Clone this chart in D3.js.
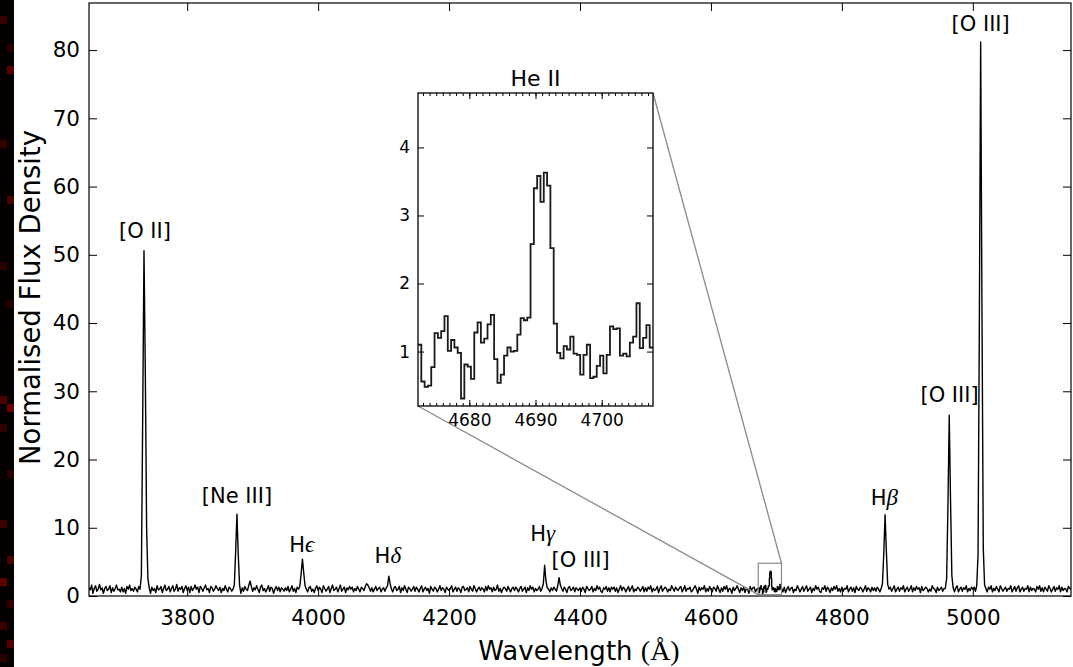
<!DOCTYPE html>
<html><head><meta charset="utf-8">
<script src="https://cdn.jsdelivr.net/npm/d3@7"></script>
<style>body{margin:0;background:#fff;overflow:hidden}svg text{font-family:"DejaVu Sans",sans-serif;fill:#000}</style>
</head><body><svg id="c" width="1073" height="667"></svg>
<script>
// ---- data ----
const rowStartWave = 3650, rowSpan = 50, waveStep = 2;   // each row: 25 samples, 2 Å apart
const fluxRows = [
 [1.2,0.9,1.6,0.4,1.1,1.5,0.7,1.0,1.7,0.9,1.2,0.4,1.1,1.4,0.8,1.0,1.5,0.5,1.2,0.7,1.1,1.6,0.9,1.0,0.6],
 [1.3,0.6,1.1,0.4,1.4,1.0,1.6,0.8,1.1,0.7,1.3,1.0,0.6,1.4,1.0,3.0,26,50.6,33,10,2.5,1.2,0.4,1.3,0.8],
 [1.1,0.5,1.5,0.9,1.0,1.4,0.5,1.1,1.6,0.8,1.0,1.4,0.6,1.1,1.5,0.7,1.0,1.7,0.7,1.2,1.0,1.4,0.5,1.1,1.5],
 [0.8,1.3,0.5,1.4,0.8,1.1,1.6,1.0,1.3,0.5,1.4,1.1,0.7,1.2,1.6,0.9,1.1,0.5,1.4,1.2,0.7,1.0,1.5,1.1,0.8],
 [1.3,0.5,1.1,0.8,1.5,1.0,0.6,1.3,1.1,0.7,1.0,1.6,6.5,12.0,6.0,1.6,0.4,1.2,0.7,1.4,1.0,0.8,1.5,2.2,1.4],
 [0.7,1.2,0.9,1.5,1.0,0.5,1.3,1.6,0.8,1.1,0.6,1.0,1.5,0.7,1.3,1.1,0.4,1.0,1.4,0.8,1.3,0.6,1.2,1.0,0.7],
 [1.2,0.8,1.4,0.6,1.0,1.5,0.7,1.1,0.5,1.3,1.0,1.4,3.2,5.4,3.4,1.5,1.0,0.6,1.2,1.4,0.7,1.0,0.5,1.1,1.5],
 [0.8,1.3,1.0,0.5,1.5,1.1,0.7,1.0,1.4,0.5,1.1,1.6,0.8,1.0,1.3,0.6,1.1,1.6,0.7,1.0,1.3,0.5,1.2,0.9,1.4],
 [1.0,1.3,0.6,1.1,0.8,1.4,1.0,0.6,1.3,1.1,0.8,1.4,1.8,1.6,1.2,0.7,1.2,0.6,1.0,1.4,0.8,1.1,1.3,0.6,1.0],
 [1.2,0.7,1.2,1.5,2.9,1.8,1.0,0.6,1.2,1.4,0.8,1.0,1.4,0.5,1.2,0.8,1.5,1.0,0.5,1.3,1.1,0.7,1.0,1.4,0.7],
 [1.3,1.0,0.6,1.1,1.5,0.6,1.0,1.3,0.8,1.1,0.4,1.4,1.0,0.7,1.3,1.1,0.6,1.0,1.5,0.8,1.2,1.0,0.5,1.3,1.0],
 [0.8,1.1,1.5,0.6,1.0,1.3,0.7,1.2,1.0,0.5,1.3,1.4,0.8,1.0,1.2,0.6,1.4,1.0,0.7,1.5,1.1,0.6,1.0,1.3,0.8],
 [1.2,1.0,0.6,1.4,0.8,1.5,1.0,1.2,0.6,1.3,0.8,1.0,1.6,0.7,1.1,0.5,1.0,1.3,1.1,0.7,1.4,1.0,0.6,1.1,1.3],
 [0.8,1.3,1.0,0.6,1.1,1.4,0.7,1.0,1.3,0.5,1.2,0.8,1.5,1.0,1.3,0.6,1.1,0.8,1.0,1.4,0.7,1.1,1.8,4.5,2.2],
 [1.2,1.0,0.6,1.2,0.8,1.3,1.0,0.7,1.5,2.7,1.6,1.1,0.7,1.3,1.0,0.5,1.2,1.4,0.8,1.0,1.3,0.6,1.2,1.0,0.8],
 [1.2,0.7,1.3,1.0,0.5,1.4,1.1,0.8,1.0,1.4,0.6,1.1,0.8,1.5,1.0,1.3,0.7,0.5,1.2,1.0,1.4,0.7,1.2,0.6,1.3],
 [1.0,1.3,0.7,1.2,0.5,1.0,1.5,0.8,1.3,1.1,0.6,1.0,1.4,0.7,1.1,1.5,0.6,1.0,0.8,1.3,1.1,0.7,1.0,1.4,0.6],
 [1.2,0.7,1.3,1.0,1.5,0.6,1.1,0.8,1.0,1.4,0.5,1.1,1.5,0.7,1.0,1.3,1.1,0.6,1.0,0.8,1.5,1.1,0.7,1.3,1.0],
 [0.8,1.2,1.4,0.6,1.0,1.5,0.7,1.1,1.0,1.3,0.6,0.8,1.2,1.5,1.0,0.4,1.3,0.8,1.2,1.0,1.5,0.6,1.1,0.7,1.4],
 [1.0,0.6,1.3,1.1,0.7,1.5,1.0,0.5,1.2,0.7,1.4,1.0,1.5,0.6,1.1,1.0,0.4,1.3,0.8,1.1,1.5,1.0,0.5,1.2,0.8],
 [1.3,0.5,1.1,1.0,0.4,1.4,0.8,1.2,1.3,0.6,1.0,1.1,0.5,0.8,1.2,0.6,1.3,1.4,0.7,1.2,3.0,3.5,1.0,0.9,0.8],
 [1.3,1.0,1.2,1.4,1.1,0.6,1.3,0.5,1.0,1.4,0.8,1.1,1.3,0.5,1.0,0.8,1.5,1.1,0.6,1.0,1.4,0.7,1.1,1.5,0.7],
 [1.0,1.3,0.5,1.1,0.8,1.5,1.0,1.3,0.7,0.5,1.2,1.0,1.5,0.7,1.3,1.0,0.5,1.2,0.8,1.4,1.0,1.5,0.7,1.1,0.6],
 [1.3,0.7,1.1,1.0,1.5,0.6,1.0,1.3,0.7,1.2,0.5,1.4,1.0,0.8,1.3,1.1,0.6,1.0,1.5,0.7,1.2,1.0,0.6,1.3,0.8],
 [1.2,0.7,1.3,1.0,0.6,1.1,1.8,6.2,11.9,6.5,1.7,1.0,1.3,0.7,1.1,1.5,0.6,1.0,1.3,0.7,1.2,1.0,1.5,0.6,1.0],
 [1.3,0.7,1.0,1.5,0.6,1.2,0.8,1.4,1.0,1.2,0.5,1.4,0.8,1.0,1.3,1.1,0.6,1.0,0.7,1.5,1.1,1.0,0.5,1.3,0.8],
 [1.0,1.3,0.7,1.1,1.1,2.5,13,26.5,14,3.0,1.2,0.6,1.2,1.5,0.6,1.0,1.3,0.7,1.2,1.0,1.5,0.6,1.1,0.8,1.3],
 [1.0,1.3,0.7,1.5,6.0,40,81.2,42,7.0,1.6,1.1,0.6,1.3,1.0,1.5,0.6,1.1,0.8,1.4,1.0,0.6,1.5,1.1,0.7,1.0],
 [1.3,0.7,1.1,1.0,1.5,0.6,1.0,1.4,0.7,1.2,1.5,0.6,1.0,1.3,0.7,1.1,1.0,1.5,0.6,1.3,0.8,1.1,1.0,0.6,1.4],
 [1.0,1.5,0.7,1.2,0.6,1.3,1.0,0.7,1.5,1.1,0.6,1.0,1.4,0.7,1.2,1.0,1.5,0.6,1.3,0.8,1.1,1.0,0.6,1.4,1.1],
 [1.0]
];
// He II zoom: 0.5 Å bins starting at 4672.25 Å
const insetBinStart = 4672.25, insetBinWidth = 0.5;
const insetFlux = [1.10,0.56,0.48,0.50,0.77,1.27,1.20,1.30,1.52,1.01,1.17,1.06,0.98,0.31,0.81,0.78,0.60,1.28,1.43,1.13,1.19,1.40,1.54,0.89,0.54,0.66,0.94,1.06,1.00,1.01,1.25,1.49,1.46,1.50,2.58,3.40,3.58,3.20,3.63,3.44,2.52,1.41,0.98,0.90,1.08,1.03,1.22,0.97,0.95,0.66,0.95,1.10,0.61,0.63,0.79,0.94,0.68,0.95,1.37,1.33,1.34,0.94,0.97,0.93,1.13,1.22,1.71,1.05,1.20,1.39,1.06];

const xDomain = [3650, 5150], yDomain = [0, 86.9];
const xTicks = [3800, 4000, 4200, 4400, 4600, 4800, 5000];
const yTicks = [0, 10, 20, 30, 40, 50, 60, 70, 80];
const insetXDomain = [4672.25, 4707.75], insetYDomain = [0.2, 4.8];
const insetXTicks = [4680, 4690, 4700];
const insetXMinor = d3.range(4673, 4708, 1);
const insetYTicks = [1, 2, 3, 4];

// line annotations: [main text, math-italic part, wavelength, flux level of label baseline]
const labelText = ["[O II]", "[Ne III]", "H", "H", "H", "[O III]", "H", "[O III]", "[O III]"];
const labelGreek = ["", "", "\u03F5", "\u03B4", "\u03B3", "", "\u03B2", "", ""];
const labelWave = [3735.5, 3876, 3975, 4106.5, 4343, 4401, 4865, 4964.5, 5012];
const labelFlux = [52.5, 13.6, 6.4, 4.8, 8.1, 4.2, 13.3, 28.4, 82.8];

// ---- drawing ----
const svg = d3.select("#c");
const W = 1073, H = 667;
const m = {l: 89, r: 1071, t: 3, b: 596};
const x = d3.scaleLinear().domain(xDomain).range([m.l, m.r]);
const y = d3.scaleLinear().domain(yDomain).range([m.b, m.t]);

svg.append("rect").attr("width", W).attr("height", H).attr("fill", "#fff");

// dark scan strip at left edge
const strip = svg.append("g");
strip.append("rect").attr("x", 0).attr("y", 0).attr("width", 14).attr("height", H).attr("fill", "#050000");
const stripCells = [[0,16,"#3a0000"],[7,44,"#2a0000"],[7,66,"#5a0000"],[0,140,"#300000"],[7,196,"#4a0000"],[0,262,"#2c0000"],[7,300,"#260000"],[0,396,"#4c0000"],[7,404,"#6a0000"],[0,424,"#330000"],[7,470,"#2a0000"],[0,520,"#3c0000"],[7,556,"#4a0000"],[0,578,"#5c0000"],[7,600,"#2e0000"],[0,622,"#3a0000"],[7,640,"#500000"],[0,654,"#2a0000"]];
strip.selectAll("rect.cell").data(stripCells).enter().append("rect").attr("class","cell")
  .attr("x", d => d[0]).attr("y", d => d[1]).attr("width", 7).attr("height", 8).attr("fill", d => d[2]);

// main spectrum data (inset bins spliced in)
const mainPts = [];
fluxRows.forEach((row, k) => row.forEach((v, j) => {
  const w = rowStartWave + k * rowSpan + j * waveStep;
  if (w < insetXDomain[0] || w > insetXDomain[1]) mainPts.push([w, v]);
}));
const stepPts = [];
insetFlux.forEach((v, i) => {
  const a = insetBinStart + i * insetBinWidth;
  stepPts.push([a, v], [a + insetBinWidth, v]);
});
const allPts = mainPts.concat(stepPts).sort((a, b) => a[0] - b[0]);

svg.append("clipPath").attr("id", "mainclip").append("rect")
  .attr("x", m.l).attr("y", m.t).attr("width", m.r - m.l).attr("height", m.b - m.t);

svg.append("path").datum(allPts).attr("clip-path", "url(#mainclip)")
  .attr("fill", "none").attr("stroke", "#000").attr("stroke-width", 1.4).attr("stroke-linejoin", "round")
  .attr("d", d3.line().x(d => x(d[0])).y(d => y(d[1])));

// axes (inward ticks all round)
const tick = 8;
const gl = svg.append("g").attr("transform", `translate(${m.l},0)`)
  .call(d3.axisLeft(y).tickValues(yTicks).tickSize(-tick).tickPadding(9).tickFormat(d3.format("d")));
const gr = svg.append("g").attr("transform", `translate(${m.r},0)`)
  .call(d3.axisRight(y).tickValues(yTicks).tickSize(-tick).tickFormat(""));
const gb = svg.append("g").attr("transform", `translate(0,${m.b})`)
  .call(d3.axisBottom(x).tickValues(xTicks).tickSize(-tick).tickPadding(14).tickFormat(d3.format("d")));
const gt = svg.append("g").attr("transform", `translate(0,${m.t})`)
  .call(d3.axisTop(x).tickValues(xTicks).tickSize(-tick).tickFormat(""));
[gl, gr, gb, gt].forEach(g => {
  g.select(".domain").remove();
  g.selectAll(".tick line").attr("stroke", "#000").attr("stroke-width", 1);
  g.selectAll("text").attr("font-size", 21.5).attr("font-family", "DejaVu Sans").attr("fill", "#000");
});
svg.append("rect").attr("x", m.l).attr("y", m.t).attr("width", m.r - m.l).attr("height", m.b - m.t)
  .attr("fill", "none").attr("stroke", "#000").attr("stroke-width", 1.2);

// axis titles
svg.append("text").attr("transform", `translate(40,${(m.t + m.b) / 2 - 2}) rotate(-90)`)
  .attr("text-anchor", "middle").attr("font-size", 27.5).text("Normalised Flux Density");
const xt = svg.append("text").attr("x", 579).attr("y", 660).attr("text-anchor", "middle").attr("font-size", 26);
xt.append("tspan").text("Wavelength ");
xt.append("tspan").attr("font-family", "Liberation Serif").attr("font-size", 28).text("(\u00C5)");

// line labels
labelText.forEach((t, i) => {
  const tx = svg.append("text").attr("x", x(labelWave[i])).attr("y", y(labelFlux[i]))
    .attr("text-anchor", "middle").attr("font-size", 21);
  tx.append("tspan").text(t);
  if (labelGreek[i]) tx.append("tspan").attr("font-family", "Liberation Serif").attr("font-style", "italic")
    .attr("font-size", 23).text(labelGreek[i]);
});

// zoom rectangle on main plot
const ix = d3.scaleLinear().domain(insetXDomain).range([418, 653]);
const iy = d3.scaleLinear().domain(insetYDomain).range([406, 93]);
svg.append("rect").attr("x", x(insetXDomain[0])).attr("y", y(insetYDomain[1]))
  .attr("width", x(insetXDomain[1]) - x(insetXDomain[0])).attr("height", y(insetYDomain[0]) - y(insetYDomain[1]))
  .attr("fill", "none").attr("stroke", "#8a8a8a").attr("stroke-width", 1.2);
// connectors
svg.append("line").attr("x1", ix.range()[0]).attr("y1", iy.range()[0])
  .attr("x2", x(insetXDomain[0])).attr("y2", y(insetYDomain[0])).attr("stroke", "#8a8a8a").attr("stroke-width", 1.3);
svg.append("line").attr("x1", ix.range()[1]).attr("y1", iy.range()[1])
  .attr("x2", x(insetXDomain[1])).attr("y2", y(insetYDomain[1])).attr("stroke", "#8a8a8a").attr("stroke-width", 1.3);

// inset
const ins = svg.append("g");
ins.append("rect").attr("x", 418).attr("y", 93).attr("width", 653 - 418).attr("height", 406 - 93).attr("fill", "#fff");
ins.append("clipPath").attr("id", "insclip").append("rect").attr("x", 418).attr("y", 93).attr("width", 235).attr("height", 313);
ins.append("path").datum(stepPts).attr("clip-path", "url(#insclip)")
  .attr("fill", "none").attr("stroke", "#1a1a1a").attr("stroke-width", 1.8)
  .attr("d", d3.line().x(d => ix(d[0])).y(d => iy(d[1])));
const il = ins.append("g").attr("transform", "translate(418,0)")
  .call(d3.axisLeft(iy).tickValues(insetYTicks).tickSize(-6).tickPadding(8).tickFormat(d3.format("d")));
const ir = ins.append("g").attr("transform", "translate(653,0)")
  .call(d3.axisRight(iy).tickValues(insetYTicks).tickSize(-6).tickFormat(""));
const ibm = ins.append("g").attr("transform", "translate(0,406)")
  .call(d3.axisBottom(ix).tickValues(insetXMinor).tickSize(-3).tickFormat(""));
const itm = ins.append("g").attr("transform", "translate(0,93)")
  .call(d3.axisTop(ix).tickValues(insetXMinor).tickSize(-3).tickFormat(""));
const ib = ins.append("g").attr("transform", "translate(0,406)")
  .call(d3.axisBottom(ix).tickValues(insetXTicks).tickSize(-6).tickPadding(8).tickFormat(d3.format("d")));
const it = ins.append("g").attr("transform", "translate(0,93)")
  .call(d3.axisTop(ix).tickValues(insetXTicks).tickSize(-6).tickFormat(""));
[il, ir, ibm, itm, ib, it].forEach(g => {
  g.select(".domain").remove();
  g.selectAll(".tick line").attr("stroke", "#000").attr("stroke-width", 1);
  g.selectAll("text").attr("font-size", 17).attr("font-family", "DejaVu Sans").attr("fill", "#000");
});
ins.append("rect").attr("x", 418).attr("y", 93).attr("width", 235).attr("height", 313)
  .attr("fill", "none").attr("stroke", "#000").attr("stroke-width", 1.3);
ins.append("text").attr("x", (418 + 653) / 2).attr("y", 86).attr("text-anchor", "middle")
  .attr("font-size", 22).text("He II");
</script></body></html>
